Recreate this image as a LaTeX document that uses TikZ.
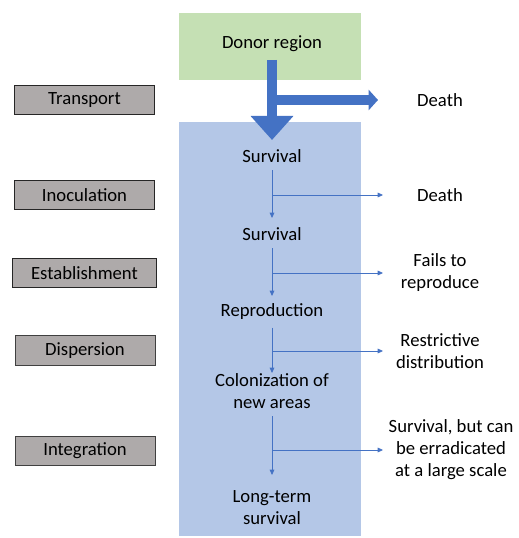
\documentclass[tikz,border=0pt]{standalone}
\usepackage{fontspec}
\setmainfont{Carlito}
\usetikzlibrary{arrows.meta,positioning}
\definecolor{donorgreen}{HTML}{C5E0B4}
\definecolor{stageblue}{HTML}{B4C7E7}
\definecolor{arrowblue}{HTML}{4472C4}
\definecolor{phasegray}{HTML}{AEAAAA}
\tikzset{
  phase/.style={draw=black!85, line width=1.2pt, fill=phasegray, minimum width=105pt, minimum height=22pt, inner sep=0pt},
  stage/.style={align=center, inner sep=1pt},
  fate/.style={align=center, inner sep=1pt},
  thin flow/.style={arrowblue, line width=0.6pt, -{Triangle[length=4pt,width=3.5pt]}},
}
\begin{document}
\begin{tikzpicture}[x=0.75pt,y=-0.75pt,font=\fontsize{14}{16.5}\selectfont]
  \useasboundingbox (0,0) rectangle (518,538);

  % Hintergrundfelder
  \fill[donorgreen] (179,13) rectangle (361,80);
  \fill[stageblue] (179,122) rectangle (361,536);

  % Phasen links
  \node[phase] (transport) at (84.5,100) {Transport};
  \node[phase] (inoculation) at (84.5,195) {Inoculation};
  \node[phase, minimum width=108pt] (establishment) at (84.5,273) {Establishment};
  \node[phase, draw=black!75, line width=0.7pt] (dispersion) at (85,350.5) {Dispersion};
  \node[phase, draw=black!75, line width=0.7pt] (integration) at (85,451) {Integration};

  % Stufen in der Mitte
  \node[stage] (donor) at (272,44) {Donor region};
  \node[stage] (surv1) at (272,156) {Survival};
  \node[stage] (surv2) at (272,234) {Survival};
  \node[stage] (repro) at (272,312) {Reproduction};
  \node[stage] (colon) at (272,391) {Colonization of\\new areas};
  \node[stage] (longterm) at (272,508) {Long-term\\survival};

  % Ausgaenge rechts
  \node[fate] (death1) at (440,100) {Death};
  \node[fate] (death2) at (440,195) {Death};
  \node[fate] (fails) at (440,273) {Fails to\\reproduce};
  \node[fate] (restrict) at (440,351) {Restrictive\\distribution};
  \node[fate] (erad) at (451,450) {Survival, but can\\be erradicated\\at a large scale};

  % dicker Pfeil (Transport)
  \coordinate (shaft) at (272,60);
  \coordinate (split) at (270,100);
  \draw[arrowblue, line width=7.5pt, -{Triangle[length=18pt,width=31pt]}] (shaft) -- (272,140);
  \draw[arrowblue, line width=7.5pt, -{Triangle[length=7pt,width=15pt]}] (split) -- (death1.west -| 378,0) ;

  % duenne Pfeile
  \draw[thin flow] (surv1.south) ++(0,6) coordinate (a1) -- (272,218);
  \draw[thin flow] (272,195) -- (death2.west -| 383,0);
  \draw[thin flow] (surv2.south) ++(0,6) -- (272,296);
  \draw[thin flow] (272,273) -- (fails.west -| 383,0);
  \draw[thin flow] (repro.south) ++(0,6) -- (272,373);
  \draw[thin flow] (272,351) -- (restrict.west -| 383,0);
  \draw[thin flow] (colon.south) ++(0,6) -- (272,475);
  \draw[thin flow] (272,450) -- (erad.west -| 383,0);
\end{tikzpicture}
\end{document}
